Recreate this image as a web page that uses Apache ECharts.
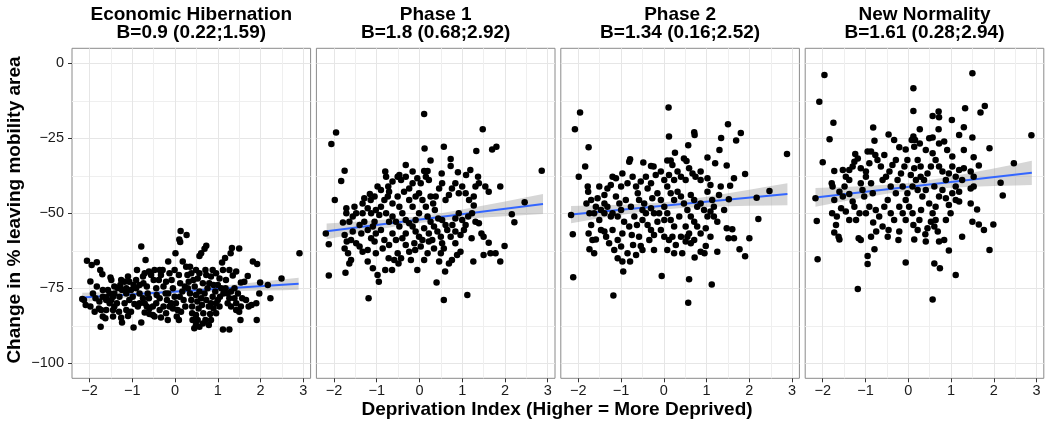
<!DOCTYPE html>
<html><head><meta charset="utf-8">
<script src="https://cdn.jsdelivr.net/npm/echarts@6/dist/echarts.min.js"></script>
<style>html,body{margin:0;padding:0;background:#fff}#c{width:1050px;height:427px}</style>
</head><body><div id="c"></div>
<script>
const panelTitles = ['Economic Hibernation', 'Phase 1', 'Phase 2', 'New Normality'];
const panelSubtitles = ['B=0.9 (0.22;1.59)', 'B=1.8 (0.68;2.92)', 'B=1.34 (0.16;2.52)', 'B=1.61 (0.28;2.94)'];
const xTicks = [-2, -1, 0, 1, 2, 3];
const xMinor = [-1.5, -0.5, 0.5, 1.5, 2.5];
const yTicks = [-100, -75, -50, -25, 0];
const yMinor = [-87.5, -62.5, -37.5, -12.5];
const xTitle = 'Deprivation Index (Higher = More Deprived)';
const yTitle = 'Change in % leaving mobility area';

const p1 = [[0.13,-55.9],[0.27,-57.2],[0.10,-58.7],[0.12,-59.6],[-0.79,-61.1],[0.73,-60.8],[0.69,-61.8],[0.61,-63.3],[0.57,-64.2],[1.33,-61.6],[1.50,-61.7],[0.01,-63.3],[2.91,-63.3],[-2.06,-65.8],[-1.95,-67.2],[-1.83,-66.3],[-0.69,-65.6],[1.10,-66.4],[1.17,-64.9],[1.30,-63.3],[1.82,-66.1],[1.92,-66.9],[-1.75,-68.9],[-1.70,-70.3],[-1.98,-72.7],[-1.51,-71.4],[-1.49,-72.2],[-0.89,-68.9],[-0.16,-66.1],[0.18,-66.1],[0.35,-67.8],[-0.36,-68.9],[0.49,-68.9],[0.71,-68.9],[0.88,-68.9],[0.96,-70.0],[1.43,-69.4],[1.35,-70.7],[1.70,-70.9],[1.99,-73.1],[2.17,-73.9],[2.49,-71.7],[2.23,-78.3],[1.79,-80.6],[1.91,-85.6],[1.53,-85.6],[1.27,-88.7],[1.12,-88.7],[1.54,-81.1],[1.50,-82.8],[1.43,-80.0],[1.23,-80.0],[1.04,-81.1],[1.00,-78.9],[0.82,-83.6],[0.79,-87.2],[0.49,-87.2],[0.45,-88.3],[0.57,-87.8],[0.41,-85.6],[0.49,-83.9],[0.40,-83.3],[0.09,-85.6],[0.04,-84.4],[-0.13,-81.1],[-0.21,-83.3],[-0.33,-84.7],[-0.52,-83.9],[-0.60,-83.6],[-0.71,-83.1],[-0.79,-86.4],[-0.97,-88.1],[-1.10,-84.2],[-1.24,-86.4],[-1.26,-84.8],[-1.45,-84.4],[-1.63,-85.0],[-1.69,-84.4],[-1.74,-87.8],[-1.78,-81.7],[-1.73,-82.2],[-1.61,-82.2],[-2.13,-78.9],[-2.09,-80.6],[-2.17,-78.6],[-1.61,-78.9],[-1.61,-78.0],[-1.53,-80.0],[-1.42,-81.1],[-1.36,-80.0],[-1.30,-77.8],[-1.42,-76.7],[-1.24,-75.6],[-1.14,-76.7],[-1.07,-78.9],[-0.99,-77.8],[-0.95,-80.2],[-0.87,-81.1],[-1.34,-75.0],[-1.28,-73.9],[-1.18,-72.8],[-1.10,-71.1],[-1.07,-72.8],[-0.97,-73.9],[-0.91,-75.0],[-1.03,-75.6],[-0.83,-76.7],[-0.75,-71.1],[-0.74,-73.3],[-0.66,-74.4],[-0.64,-76.7],[-0.61,-78.3],[-0.56,-70.6],[-0.50,-72.2],[-0.44,-75.0],[-0.43,-77.2],[-0.36,-78.3],[-0.38,-72.2],[-0.33,-70.6],[-0.27,-74.4],[-0.22,-76.7],[-0.19,-78.9],[-0.13,-70.0],[-0.08,-72.2],[-0.05,-75.0],[-0.01,-77.8],[0.02,-80.0],[0.06,-82.2],[-0.01,-68.9],[0.09,-70.6],[0.12,-73.3],[0.17,-76.1],[0.20,-78.9],[0.24,-81.1],[0.14,-82.8],[0.26,-67.8],[0.29,-70.6],[0.32,-72.8],[0.30,-75.0],[0.35,-76.7],[0.38,-78.9],[0.40,-81.1],[0.43,-72.2],[0.46,-74.4],[0.49,-77.2],[0.52,-79.4],[0.55,-81.7],[0.57,-76.1],[0.61,-78.3],[0.63,-80.6],[0.66,-83.3],[0.69,-76.7],[0.73,-78.9],[0.76,-75.0],[0.80,-73.3],[0.84,-71.1],[0.90,-73.9],[0.94,-76.1],[1.00,-73.9],[1.04,-71.7],[1.08,-75.0],[1.13,-76.7],[1.18,-75.0],[1.23,-76.7],[1.31,-76.1],[1.39,-75.0],[1.47,-76.7],[1.54,-73.1],[1.62,-72.8],[1.57,-78.3],[1.66,-78.9],[1.72,-81.1],[0.88,-77.8],[0.84,-80.0],[0.90,-81.7],[0.96,-83.3],[0.79,-81.1],[0.84,-85.6],[0.71,-85.6],[-0.36,-82.2],[-0.44,-80.0],[-0.52,-81.1],[-0.60,-81.7],[-0.27,-81.1],[-0.83,-80.0],[-0.71,-80.0],[-1.18,-80.0],[-1.14,-82.2],[-1.03,-82.8],[-1.42,-74.4],[-1.45,-77.8],[-1.53,-76.7],[-1.69,-77.8],[-1.77,-79.4],[-1.86,-78.3],[-1.92,-76.7],[-1.83,-74.4],[-1.69,-75.6],[-1.57,-75.6],[-0.91,-72.2],[-0.83,-73.9],[-0.61,-69.4],[-0.48,-68.9],[-0.29,-68.9],[-0.21,-72.8],[0.23,-74.4],[0.57,-70.0],[0.73,-70.6],[1.19,-72.2],[1.27,-68.9],[1.12,-68.9],[1.97,-76.7],[1.90,-80.0],[-1.14,-75.0],[-1.26,-72.2],[-0.71,-70.0],[-0.05,-81.7],[0.11,-77.8],[0.65,-73.3],[0.53,-71.7],[0.38,-70.0],[0.96,-80.0],[1.05,-77.8],[0.65,-86.7],[0.53,-85.6],[-0.17,-85.6],[-0.48,-84.4],[-0.66,-81.1],[-1.31,-82.8],[-1.45,-82.2],[-1.88,-82.8],[-1.98,-81.1],[-1.49,-78.9],[-0.75,-78.3],[-0.16,-76.7],[-0.09,-80.0],[1.27,-78.3],[1.39,-78.3],[1.31,-81.1],[1.43,-82.2]];

const p2 = [[0.11,-16.9],[-1.95,-23.1],[-2.06,-26.9],[1.48,-22.0],[0.12,-28.4],[0.57,-27.8],[1.33,-29.2],[1.70,-28.7],[1.80,-27.8],[2.86,-35.8],[0.26,-32.4],[0.73,-31.9],[0.73,-34.2],[-0.32,-33.9],[-1.75,-35.8],[-0.80,-36.1],[-0.47,-37.2],[0.11,-35.9],[0.19,-35.9],[0.52,-36.7],[0.90,-36.3],[1.09,-37.2],[1.19,-35.6],[1.37,-37.8],[1.89,-41.1],[-1.83,-39.2],[-1.98,-45.6],[-0.05,-38.3],[0.15,-37.8],[0.22,-38.9],[0.03,-40.0],[-0.16,-40.0],[-0.24,-41.7],[-0.32,-37.8],[-0.43,-38.9],[-0.63,-39.4],[-0.73,-41.1],[-0.98,-41.1],[-0.90,-42.2],[-0.71,-42.8],[-1.16,-43.6],[-1.14,-45.6],[-1.29,-45.0],[-1.33,-46.7],[-1.52,-47.8],[-1.71,-48.3],[-1.71,-50.0],[-1.48,-50.0],[-1.79,-53.1],[-2.19,-56.7],[-2.12,-60.3],[-2.12,-70.7],[-1.75,-57.2],[-1.75,-61.7],[-1.67,-63.3],[-1.60,-65.6],[-1.64,-66.7],[-1.73,-69.8],[-1.48,-60.0],[-1.40,-61.1],[-1.33,-62.8],[-1.21,-66.1],[-1.09,-68.3],[-0.98,-70.6],[-0.95,-72.8],[-1.19,-78.3],[-0.80,-68.9],[-0.72,-65.0],[-0.64,-68.9],[-0.59,-65.6],[-0.51,-63.3],[-0.49,-66.7],[-0.43,-65.0],[-0.32,-60.6],[-0.24,-62.8],[-0.20,-65.6],[-0.05,-68.9],[0.11,-65.6],[0.19,-63.3],[0.22,-59.4],[0.07,-58.9],[-0.01,-57.8],[-0.09,-56.1],[-0.16,-54.4],[-0.24,-53.3],[-0.32,-56.7],[-0.40,-58.3],[-0.47,-54.4],[-0.55,-52.8],[-0.63,-51.1],[-0.71,-52.8],[-0.78,-50.0],[-0.82,-45.6],[-0.74,-44.4],[-0.63,-46.7],[-0.51,-44.4],[-0.47,-47.8],[-0.40,-50.0],[-0.24,-45.6],[-0.16,-47.8],[-0.09,-44.4],[-0.01,-43.3],[0.07,-45.6],[0.15,-47.8],[0.19,-51.1],[0.26,-52.8],[0.34,-54.4],[0.42,-56.1],[0.50,-57.8],[0.53,-60.0],[0.57,-61.7],[0.50,-63.3],[0.46,-66.1],[0.60,-69.4],[0.40,-73.1],[0.57,-78.9],[1.12,-77.2],[0.69,-66.7],[0.76,-65.6],[0.88,-63.9],[0.96,-62.8],[0.84,-60.0],[0.73,-57.8],[0.65,-55.6],[0.77,-53.9],[0.84,-51.7],[0.92,-50.0],[1.00,-52.2],[1.08,-53.9],[1.14,-51.1],[1.23,-50.0],[1.27,-47.4],[1.31,-52.8],[1.39,-53.3],[1.22,-58.3],[1.26,-66.1],[1.45,-56.7],[1.50,-57.8],[1.62,-59.8],[1.50,-63.9],[1.66,-63.3],[1.78,-63.3],[1.89,-66.1],[1.99,-60.9],[2.16,-50.3],[2.22,-53.0],[2.46,-46.3],[1.54,-41.1],[1.62,-42.8],[1.39,-40.0],[1.31,-41.1],[1.27,-44.4],[1.16,-45.6],[1.08,-43.3],[1.00,-41.1],[0.92,-43.3],[0.84,-40.0],[0.76,-41.7],[0.69,-43.9],[0.61,-45.6],[0.53,-40.0],[0.46,-41.7],[0.38,-44.4],[0.32,-46.7],[0.26,-44.4],[0.36,-48.9],[0.44,-51.7],[0.53,-52.2],[0.61,-53.9],[0.84,-56.1],[0.96,-57.2],[1.04,-55.6],[-0.12,-60.0],[-0.10,-62.2],[0.03,-61.1],[0.11,-55.0],[0.22,-56.7],[0.30,-58.9],[0.34,-61.7],[-1.02,-48.9],[-0.94,-50.6],[-1.05,-52.8],[-1.09,-54.4],[-1.21,-55.6],[-1.29,-52.8],[-1.40,-53.9],[-1.36,-56.7],[-1.56,-56.1],[-1.60,-58.9],[-1.13,-58.3],[-1.02,-56.7],[-0.90,-55.6],[-0.82,-58.9],[-0.86,-61.7],[-0.71,-60.6],[-0.55,-58.9],[-0.63,-56.7],[-1.05,-59.4],[-1.21,-62.2],[-1.02,-63.3],[-1.13,-50.0],[-1.21,-48.3],[-1.33,-50.0],[-1.56,-51.1],[-1.64,-52.8],[-1.70,-59.4],[-0.51,-37.8],[-0.16,-36.1],[-0.78,-37.8],[-1.05,-44.4],[-0.90,-47.8],[-0.36,-42.8],[-0.32,-52.2],[-0.01,-50.0],[-0.09,-52.2]];

const p3 = [[0.11,-14.7],[-1.96,-16.4],[-2.08,-22.0],[1.50,-20.3],[0.12,-24.4],[0.71,-23.0],[0.72,-23.9],[1.34,-24.9],[1.69,-25.7],[1.80,-23.2],[2.88,-30.2],[-1.76,-28.0],[-1.84,-34.4],[-1.99,-37.8],[0.57,-27.3],[0.26,-29.8],[1.30,-28.9],[1.02,-31.4],[1.20,-33.3],[1.47,-34.1],[1.90,-36.9],[1.64,-38.3],[-0.79,-32.0],[-0.81,-32.8],[-0.48,-33.1],[-0.30,-34.2],[-0.24,-34.4],[0.08,-32.4],[0.16,-32.4],[0.20,-33.9],[0.47,-31.7],[0.53,-32.6],[0.59,-35.0],[0.86,-36.1],[1.02,-38.3],[1.09,-40.6],[1.33,-41.1],[1.55,-40.8],[2.17,-44.8],[2.47,-42.6],[2.21,-51.9],[2.00,-58.3],[1.90,-64.3],[1.77,-62.0],[1.64,-58.3],[1.51,-58.3],[1.60,-55.3],[1.47,-55.0],[1.41,-48.9],[1.52,-45.3],[1.29,-43.9],[1.13,-45.6],[1.02,-42.8],[0.86,-38.9],[0.74,-37.8],[0.67,-36.7],[0.51,-38.9],[0.40,-37.8],[0.32,-36.1],[0.24,-38.9],[0.12,-37.2],[0.01,-38.9],[-0.07,-36.1],[-0.19,-37.2],[-0.30,-40.0],[-0.42,-37.8],[-0.54,-39.4],[-0.65,-41.1],[-0.73,-37.8],[-0.85,-40.0],[-0.97,-36.7],[-1.00,-41.1],[-1.12,-38.3],[-1.20,-37.8],[-1.24,-40.6],[-1.32,-41.7],[-1.39,-43.9],[-1.51,-41.1],[-1.55,-45.0],[-1.78,-41.1],[-1.77,-42.8],[-1.81,-46.7],[-1.70,-45.6],[-2.17,-50.6],[-2.13,-57.0],[-2.12,-71.3],[-1.74,-50.0],[-1.70,-53.9],[-1.76,-56.7],[-1.67,-58.9],[-1.59,-58.7],[-1.74,-62.0],[-1.63,-63.3],[-1.47,-55.6],[-1.39,-56.1],[-1.35,-57.8],[-1.51,-52.2],[-1.39,-50.0],[-1.32,-47.8],[-1.20,-50.0],[-1.24,-51.1],[-1.20,-55.6],[-1.16,-62.2],[-1.08,-65.0],[-0.97,-66.1],[-0.95,-69.4],[-1.18,-77.4],[-0.79,-66.1],[-0.85,-63.3],[-0.72,-60.6],[-0.75,-57.2],[-0.81,-54.4],[-0.93,-52.8],[-1.00,-48.9],[-1.04,-46.7],[-1.12,-44.4],[-0.89,-45.6],[-0.77,-47.8],[-0.69,-51.1],[-0.63,-53.9],[-0.58,-57.8],[-0.54,-60.9],[-0.50,-62.2],[-0.65,-63.9],[-0.58,-45.6],[-0.46,-46.7],[-0.42,-50.0],[-0.50,-52.2],[-0.38,-53.9],[-0.30,-55.6],[-0.23,-57.2],[-0.34,-58.9],[-0.23,-62.2],[-0.05,-70.9],[0.08,-62.2],[0.12,-58.9],[0.01,-57.8],[-0.07,-55.6],[-0.15,-52.8],[-0.23,-50.0],[-0.30,-48.3],[-0.27,-45.0],[-0.15,-43.3],[-0.07,-45.6],[0.01,-47.8],[0.08,-50.0],[0.16,-52.2],[0.24,-54.4],[0.20,-57.8],[0.28,-60.6],[0.24,-63.3],[0.43,-63.3],[0.51,-59.4],[0.55,-57.8],[0.59,-56.7],[0.51,-54.4],[0.63,-60.0],[0.71,-58.9],[0.72,-64.7],[0.59,-72.0],[0.57,-79.8],[1.12,-73.7],[0.86,-62.8],[0.95,-63.3],[0.98,-60.9],[0.86,-56.7],[0.78,-54.4],[0.71,-52.8],[0.63,-51.1],[0.55,-48.9],[0.47,-46.7],[0.40,-44.4],[0.32,-42.8],[0.24,-45.6],[0.16,-43.3],[0.08,-41.1],[0.63,-43.9],[0.71,-45.6],[0.78,-47.8],[0.86,-46.7],[0.94,-48.9],[1.02,-51.1],[1.09,-49.4],[1.17,-51.1],[1.25,-52.8],[1.17,-47.8],[0.98,-55.0],[1.09,-57.8],[1.25,-62.8],[-1.39,-46.7],[-1.47,-48.9],[-1.59,-47.8],[-1.63,-50.0],[-1.08,-51.1],[-0.97,-56.7],[-1.08,-58.9],[-1.28,-60.0],[-1.00,-61.1],[-0.61,-43.3],[-0.38,-41.7],[-0.50,-48.9],[0.36,-51.1],[0.40,-57.8],[0.01,-52.2],[-0.11,-50.0]];

const p4 = [[-1.96,-3.9],[1.50,-3.3],[-2.08,-12.8],[0.12,-8.3],[0.12,-15.9],[1.33,-15.0],[1.69,-16.4],[1.79,-14.2],[0.57,-17.6],[0.71,-16.1],[0.72,-18.0],[1.02,-18.9],[-1.75,-19.8],[-0.82,-21.4],[1.30,-21.3],[0.27,-22.0],[0.71,-22.0],[-1.84,-25.3],[1.19,-23.9],[-0.46,-23.7],[2.88,-24.0],[1.50,-24.7],[0.12,-24.4],[0.16,-25.6],[0.08,-25.6],[-0.79,-25.8],[0.49,-25.0],[0.57,-24.7],[-0.33,-25.6],[1.30,-28.9],[1.90,-28.3],[-2.00,-33.0],[-0.21,-28.0],[-0.06,-28.7],[0.14,-27.8],[0.27,-26.7],[0.41,-28.9],[0.72,-26.7],[0.84,-26.1],[0.91,-28.9],[1.03,-31.1],[1.53,-31.3],[1.65,-34.1],[2.47,-33.3],[2.16,-39.8],[2.21,-44.1],[1.99,-53.7],[1.90,-62.2],[1.77,-55.6],[1.65,-53.7],[1.50,-52.8],[1.61,-48.7],[1.46,-46.7],[1.53,-37.8],[1.46,-36.1],[1.30,-35.0],[1.19,-35.6],[1.11,-37.8],[1.03,-34.4],[0.95,-36.7],[0.88,-38.9],[0.80,-36.1],[0.72,-34.4],[0.64,-32.2],[0.57,-30.0],[0.53,-34.4],[0.45,-36.7],[0.37,-38.9],[0.29,-34.4],[0.22,-32.2],[0.14,-35.0],[0.06,-37.2],[-0.02,-32.2],[-0.09,-34.4],[-0.17,-36.7],[-0.25,-38.9],[-0.29,-32.2],[-0.37,-33.9],[-0.44,-36.1],[-0.52,-37.8],[-0.56,-30.6],[-0.64,-34.4],[-0.72,-32.2],[-0.77,-30.6],[-0.87,-29.4],[-0.95,-29.4],[-0.91,-33.3],[-0.99,-36.1],[-1.11,-35.0],[-1.18,-31.7],[-1.26,-32.8],[-1.30,-34.4],[-1.24,-30.2],[-1.38,-35.6],[-1.46,-37.8],[-1.53,-35.6],[-1.73,-35.9],[-1.79,-40.0],[-1.77,-41.1],[-2.17,-45.0],[-2.14,-52.6],[-2.12,-65.3],[-1.73,-45.6],[-1.78,-50.0],[-1.67,-51.1],[-1.69,-53.9],[-1.73,-56.4],[-1.63,-57.8],[-1.61,-58.7],[-1.57,-48.3],[-1.49,-41.1],[-1.38,-43.6],[-1.46,-49.4],[-1.38,-52.2],[-1.30,-46.1],[-1.26,-47.8],[-1.22,-52.2],[-1.16,-58.3],[-1.11,-58.9],[-1.18,-75.2],[-0.95,-64.2],[-0.95,-66.9],[-0.79,-62.0],[-0.87,-57.8],[-0.82,-53.1],[-0.75,-56.1],[-1.07,-42.2],[-1.03,-44.4],[-1.11,-40.0],[-0.87,-40.0],[-0.83,-43.3],[-0.76,-48.9],[-0.68,-51.1],[-0.60,-54.4],[-0.48,-57.8],[-0.46,-55.6],[-0.56,-47.8],[-0.48,-45.6],[-0.41,-50.0],[-0.33,-52.2],[-0.21,-56.1],[-0.23,-58.9],[-0.06,-66.4],[-0.29,-43.3],[-0.21,-47.8],[-0.13,-50.0],[-0.06,-52.2],[0.02,-47.8],[0.10,-50.0],[0.12,-53.9],[0.14,-58.7],[0.22,-55.6],[0.26,-52.2],[0.30,-48.9],[0.33,-44.4],[0.22,-42.2],[0.10,-41.1],[-0.02,-43.3],[-0.13,-41.1],[0.41,-42.2],[0.49,-46.7],[0.57,-50.0],[0.53,-52.8],[0.61,-54.4],[0.45,-55.0],[0.41,-59.4],[0.40,-57.0],[0.69,-56.1],[0.72,-59.4],[0.84,-58.9],[0.95,-62.4],[0.61,-66.7],[0.74,-68.3],[1.11,-70.6],[0.57,-78.7],[0.64,-47.8],[0.72,-44.4],[0.80,-42.2],[0.88,-45.0],[0.95,-47.2],[1.03,-43.3],[1.11,-41.1],[1.19,-42.8],[1.19,-46.1],[1.26,-57.8],[1.46,-41.7],[1.53,-41.1],[1.26,-38.9],[-1.38,-38.9],[-1.61,-42.8],[-1.53,-44.4],[-0.99,-50.0],[-0.91,-47.8],[-1.14,-50.0],[-0.99,-37.8],[-0.60,-38.9],[-0.41,-41.1],[0.18,-38.9],[0.29,-37.8],[0.61,-41.1],[0.64,-52.2],[0.88,-52.2],[0.99,-50.0],[1.11,-45.6],[-0.06,-45.6]];

// fitted regression lines and confidence band
const fitX = [-2.17, 2.89];
const fit1 = [-78.05, -73.5];
const fit2 = [-56.0, -46.9];
const fit3 = [-50.4, -43.6];
const fit4 = [-44.7, -36.5];
const bandX = [-2.17, -1.5, -1, -0.5, 0, 0.5, 1, 1.5, 2, 2.5, 2.89];
const lo1 = [-79.63, -78.64, -77.93, -77.29, -76.76, -76.39, -76.13, -75.94, -75.77, -75.63, -75.52];
const hi1 = [-76.47, -76.26, -76.07, -75.81, -75.44, -74.91, -74.27, -73.56, -72.83, -72.07, -71.48];
const lo2 = [-58.64, -56.78, -55.46, -54.23, -53.2, -52.43, -51.86, -51.38, -50.96, -50.56, -50.27];
const hi2 = [-53.38, -52.82, -52.34, -51.77, -51.0, -49.97, -48.74, -47.42, -46.04, -44.64, -43.53];
const lo3 = [-53.28, -51.67, -50.54, -49.51, -48.7, -48.17, -47.86, -47.65, -47.5, -47.38, -47.3];
const hi3 = [-47.54, -47.35, -47.14, -46.83, -46.3, -45.49, -44.46, -43.33, -42.14, -40.92, -39.96];
const lo4 = [-47.85, -46.0, -44.68, -43.48, -42.52, -41.88, -41.46, -41.17, -40.93, -40.73, -40.59];
const hi4 = [-41.53, -41.24, -40.94, -40.52, -39.88, -38.92, -37.72, -36.41, -35.03, -33.63, -32.51];

const points = [p1, p2, p3, p4];
const fits = [fit1, fit2, fit3, fit4];
const los = [lo1, lo2, lo3, lo4];
const his = [hi1, hi2, hi3, hi4];

const FONT = '"Liberation Sans", Arial, Helvetica, sans-serif';
const lefts = [72, 316.4, 560.8, 805.2];
const PW = 238.6, PT = 48.3, PH = 330;
const fmt = v => String(v).replace('-', '\u2212');

const grids = [], xAxes = [], yAxes = [], series = [], graphics = [];
for (let i = 0; i < 4; i++) {
  grids.push({left: lefts[i], top: PT, width: PW, height: PH, show: true,
    borderColor: '#8a8a8a', borderWidth: 1, backgroundColor: '#ffffff'});
  xAxes.push({type: 'value', gridIndex: i, min: -2.41, max: 3.17, position: 'bottom',
    axisLine: {show: false, onZero: false},
    axisTick: {show: true, customValues: xTicks, length: 4, lineStyle: {color: '#333333'}},
    axisLabel: {show: true, customValues: xTicks, formatter: fmt, color: '#1a1a1a', fontSize: 14.5, fontFamily: FONT, margin: 5},
    splitLine: {show: true, lineStyle: {color: '#e6e6e6', width: 1}}});
  xAxes.push({type: 'value', gridIndex: i, min: -2.41, max: 3.17, position: 'top',
    axisLine: {show: false, onZero: false}, axisTick: {show: false, customValues: xMinor}, axisLabel: {show: false},
    splitLine: {show: true, lineStyle: {color: '#efefef', width: 1}}});
  yAxes.push({type: 'value', gridIndex: i, min: -105, max: 5, position: 'left',
    axisLine: {show: false, onZero: false},
    axisTick: {show: i === 0, customValues: yTicks, length: 4, lineStyle: {color: '#333333'}},
    axisLabel: {show: i === 0, customValues: yTicks, formatter: fmt, color: '#1a1a1a', fontSize: 14.5, fontFamily: FONT, margin: 8},
    splitLine: {show: true, lineStyle: {color: '#e6e6e6', width: 1}}});
  yAxes.push({type: 'value', gridIndex: i, min: -105, max: 5, position: 'right',
    axisLine: {show: false, onZero: false}, axisTick: {show: false, customValues: yMinor}, axisLabel: {show: false},
    splitLine: {show: true, lineStyle: {color: '#efefef', width: 1}}});

  const lo = los[i], hi = his[i];
  series.push({type: 'custom', xAxisIndex: 2 * i, yAxisIndex: 2 * i, data: [[bandX[0], lo[0]]], z: 2, silent: true,
    renderItem: function (params, api) {
      const pts = [];
      for (let k = 0; k < bandX.length; k++) pts.push(api.coord([bandX[k], hi[k]]));
      for (let k = bandX.length - 1; k >= 0; k--) pts.push(api.coord([bandX[k], lo[k]]));
      return {type: 'polygon', shape: {points: pts}, style: {fill: 'rgba(153,153,153,0.4)'}};
    }});
  series.push({type: 'line', xAxisIndex: 2 * i, yAxisIndex: 2 * i,
    data: [[fitX[0], fits[i][0]], [fitX[1], fits[i][1]]],
    showSymbol: false, symbol: 'none', lineStyle: {color: '#3366FF', width: 2}, z: 3, silent: true});
  series.push({type: 'scatter', xAxisIndex: 2 * i, yAxisIndex: 2 * i, data: points[i],
    symbolSize: 6.5, itemStyle: {color: '#000000', opacity: 1}, z: 4, silent: true});

  graphics.push({type: 'text', x: lefts[i] + PW / 2, y: 6,
    style: {text: panelTitles[i] + '\n' + panelSubtitles[i], textAlign: 'center', textVerticalAlign: 'top',
      fontSize: 19, fontWeight: 'bold', fontFamily: FONT, lineHeight: 18, fill: '#000000'}});
}
graphics.push({type: 'text', x: 557, y: 410,
  style: {text: xTitle, textAlign: 'center', textVerticalAlign: 'middle', fontSize: 19, fontWeight: 'bold', fontFamily: FONT, fill: '#000000'}});
graphics.push({type: 'text', x: 15, y: 210, rotation: Math.PI / 2,
  style: {text: yTitle, textAlign: 'center', textVerticalAlign: 'middle', fontSize: 19, fontWeight: 'bold', fontFamily: FONT, fill: '#000000'}});

const chart = echarts.init(document.getElementById('c'), null, {renderer: 'canvas'});
chart.setOption({
  animation: false,
  backgroundColor: '#ffffff',
  grid: grids, xAxis: xAxes, yAxis: yAxes, series: series, graphic: graphics
});
</script></body></html>
